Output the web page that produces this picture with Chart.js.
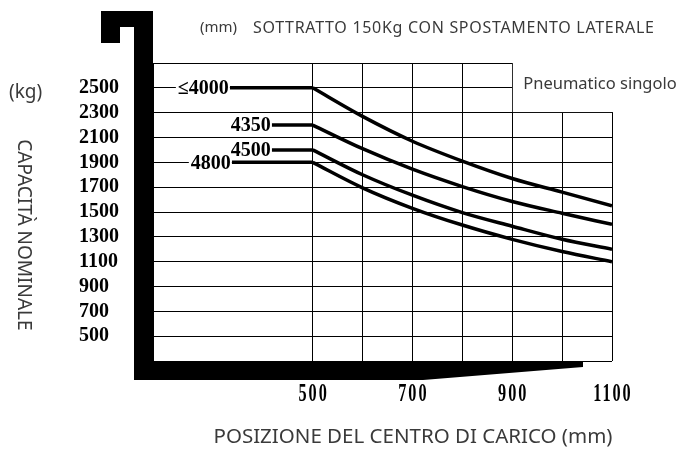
<!DOCTYPE html>
<html>
<head>
<meta charset="utf-8">
<script src="https://cdn.jsdelivr.net/npm/chart.js@4.4.1/dist/chart.umd.min.js"></script>
<style>
  html, body { margin: 0; padding: 0; background: #fff; }
  #wrap { width: 681px; height: 450px; position: relative; }
</style>
</head>
<body>
<div id="wrap"><canvas id="c" width="681" height="450"></canvas></div>
<script>
// ---- data ----
const loadCentres = [500, 600, 700, 800, 900, 1000, 1100];          // mm
const seriesNames = ['≤4000', '4350', '4500', '4800'];              // lift height (mm)
const flatStart   = [334, 418, 418, 338];                            // mm, where the flat part starts
const cap4000 = [2500, 2270, 2070, 1910, 1770, 1660, 1550];          // kg
const cap4350 = [2200, 2010, 1845, 1705, 1585, 1490, 1400];
const cap4500 = [2000, 1800, 1635, 1495, 1385, 1280, 1200];
const cap4800 = [1900, 1695, 1530, 1395, 1280, 1182, 1100];
const xTickValues = [180, 500, 600, 700, 800, 900, 1000, 1100];
const xTickLabels = ['', '500', '', '700', '', '900', '', '1100'];
const yTickLabels = ['', '500', '700', '900', '1100', '1300', '1500', '1700', '1900', '2100', '2300', '2500', ''];
const titleUnit = '(mm)';
const titleText = 'SOTTRATTO 150Kg CON SPOSTAMENTO LATERALE';
const yUnit = '(kg)';
const yTitle = 'CAPACITÀ NOMINALE';
const xTitle = 'POSIZIONE DEL CENTRO DI CARICO (mm)';
const tyreNote = 'Pneumatico singolo';

const allCaps = [cap4000, cap4350, cap4500, cap4800];

const NUM_FONT = "'Liberation Serif', 'Times New Roman', serif";
const TXT_FONT = "'Noto Sans', 'Open Sans', sans-serif";

const datasets = [];
allCaps.forEach((caps, i) => {
  datasets.push({
    label: seriesNames[i] + ' flat',
    data: [{x: flatStart[i], y: caps[0]}, {x: loadCentres[0], y: caps[0]}],
    borderColor: '#000', borderWidth: 3.5, pointRadius: 0, tension: 0, fill: false
  });
  datasets.push({
    label: seriesNames[i],
    data: loadCentres.map((x, k) => ({x, y: caps[k]})),
    borderColor: '#000', borderWidth: 3.5, pointRadius: 0,
    cubicInterpolationMode: 'monotone', fill: false
  });
});

// draw a scale's own label items horizontally compressed (condensed digits)
function condensedLabels(sx, spacing) {
  return function (s) {
    s.height = 50;
    s.drawLabels = function (area) {
      const ctx = this.ctx;
      const items = this.getLabelItems(area);
      for (const item of items) {
        if (!item.label) continue;
        const o = item.options;
        ctx.save();
        ctx.font = item.font.string;
        ctx.fillStyle = o.color;
        ctx.textAlign = o.textAlign;
        ctx.textBaseline = o.textBaseline;
        if ('letterSpacing' in ctx) ctx.letterSpacing = spacing + 'px';
        ctx.translate(o.translation[0], o.translation[1]);
        ctx.scale(sx, 1);
        ctx.fillText(item.label, spacing / 2, item.textOffset);
        ctx.restore();
      }
    };
  };
}

const decor = {
  id: 'decor',
  beforeDatasetsDraw(chart) {
    const {ctx, chartArea: a, scales: {x, y}} = chart;
    // blank the upper-right corner of the grid (stepped outline)
    const xs = x.getPixelForValue(900), ys = y.getPixelForValue(2300);
    ctx.save();
    ctx.fillStyle = '#fff';
    ctx.fillRect(xs + 0.6, a.top - 2, a.right - xs + 3, ys - a.top + 1.4);
    ctx.restore();
  },
  afterDatasetsDraw(chart) {
    const {ctx, chartArea: a, scales: {x, y}} = chart;
    ctx.save();
    // series labels with white background
    ctx.font = "bold 20px " + NUM_FONT;
    ctx.textBaseline = 'middle';
    ctx.textAlign = 'right';
    allCaps.forEach((caps, i) => {
      const px = x.getPixelForValue(flatStart[i]);
      const py = y.getPixelForValue(caps[0]);
      const w = ctx.measureText(seriesNames[i]).width;
      ctx.fillStyle = '#fff';
      ctx.fillRect(px - w - 3, py - 8, w + 3, 16);
      ctx.fillStyle = '#000';
      ctx.fillText(seriesNames[i], px - 1, py + 1);
    });
    // black frame
    ctx.fillStyle = '#000';
    ctx.beginPath();
    ctx.moveTo(a.left - 52, a.top - 52);
    ctx.lineTo(a.left, a.top - 52);
    ctx.lineTo(a.left, a.bottom);
    ctx.lineTo(a.left + 430, a.bottom);
    ctx.lineTo(a.left + 430, a.bottom + 6);
    ctx.lineTo(a.left + 270, a.bottom + 19);
    ctx.lineTo(a.left - 19, a.bottom + 19);
    ctx.lineTo(a.left - 19, a.top - 36);
    ctx.lineTo(a.left - 33, a.top - 36);
    ctx.lineTo(a.left - 33, a.top - 20);
    ctx.lineTo(a.left - 52, a.top - 20);
    ctx.closePath();
    ctx.fill();
    // texts
    ctx.fillStyle = '#3a3a3a';
    ctx.textAlign = 'left';
    ctx.textBaseline = 'middle';
    ctx.font = "15px " + TXT_FONT;
    ctx.fillText(titleUnit, 200, 28);
    ctx.font = "16px " + TXT_FONT;
    if ('letterSpacing' in ctx) ctx.letterSpacing = '0.7px';
    ctx.fillText(titleText, 253, 28);
    if ('letterSpacing' in ctx) ctx.letterSpacing = '0px';
    ctx.font = "16.5px " + TXT_FONT;
    ctx.fillText(tyreNote, x.getPixelForValue(900) + 11, y.getPixelForValue(2500) - 4);
    ctx.font = "19px " + TXT_FONT;
    ctx.fillText(yUnit, 9, 93);
    ctx.font = "20.5px " + TXT_FONT;
    ctx.textAlign = 'center';
    ctx.fillText(xTitle, 413, 437);
    ctx.translate(23, 235);
    ctx.rotate(Math.PI / 2);
    ctx.font = "19px " + TXT_FONT;
    ctx.fillText(yTitle, 0, 0);
    ctx.restore();
  }
};

new Chart(document.getElementById('c'), {
  type: 'line',
  data: { datasets },
  options: {
    responsive: false,
    animation: false,
    events: [],
    layout: { padding: { left: 79, right: 69, top: 63, bottom: 39 } },
    plugins: { legend: { display: false }, tooltip: { enabled: false }, title: { display: false } },
    scales: {
      x: {
        type: 'linear', min: 180, max: 1100,
        afterBuildTicks: (s) => { s.ticks = xTickValues.map(v => ({value: v})); },
        afterFit: condensedLabels(0.65, 3),
        grid: { color: '#000', lineWidth: 1, drawTicks: false },
        border: { display: false },
        ticks: {
          autoSkip: false, maxRotation: 0, padding: 19,
          color: '#000', font: { family: NUM_FONT, size: 25, weight: 'bold' },
          callback: (v, i) => xTickLabels[i]
        }
      },
      y: {
        type: 'linear', min: 300, max: 2700,
        afterBuildTicks: (s) => { s.ticks = yTickLabels.map((t, i) => ({value: 300 + 200 * i})); },
        afterFit: (s) => { s.width = 74; },
        grid: { color: '#000', lineWidth: 1, drawTicks: false },
        border: { display: false },
        ticks: {
          autoSkip: false, crossAlign: 'far', padding: 0,
          color: '#000', font: { family: NUM_FONT, size: 20, weight: 'bold' },
          callback: (v, i) => yTickLabels[i]
        }
      }
    }
  },
  plugins: [decor]
});
</script>
</body>
</html>
